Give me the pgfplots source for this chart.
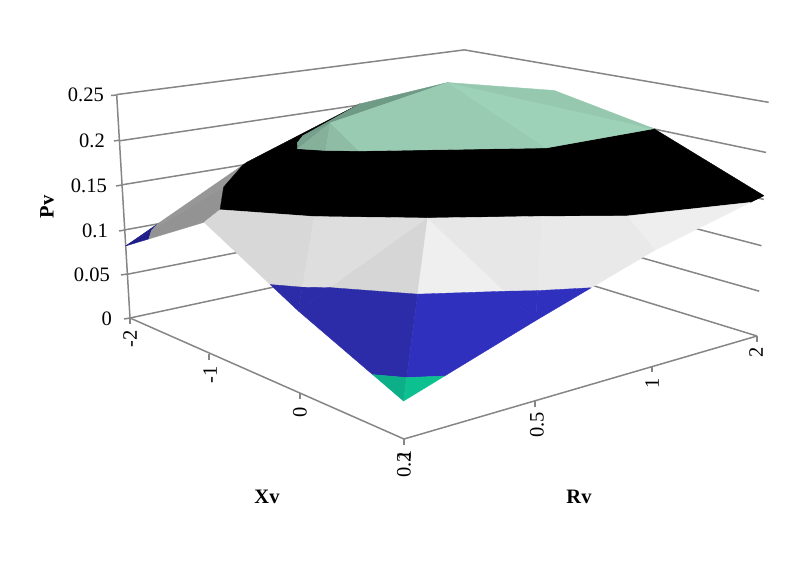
\documentclass[border=0pt]{standalone}
\usepackage{pgfplots}
\usepackage{fontspec}
\setmainfont{Liberation Serif}
\pgfplotsset{compat=1.18}
% perspective view of (u = Xv category index from the front, v = Rv category index, p = Pv)
\def\DEN{(1+0.06987*\thisrow{u}+0.059*\thisrow{v}-0.1828*\thisrow{p})}
\def\PX{(404-82.25*\thisrow{u}+162.33*\thisrow{v}-86.4*\thisrow{p})/\DEN}
\def\PY{(439-18.117*\thisrow{u}-14.51*\thisrow{v}-1108*\thisrow{p})/\DEN}
\newcommand\fac[2]{\addplot[fill=#1,draw=#1,line width=.35pt,line join=round,forget plot]
  table[x expr=\PX,y expr=\PY,row sep=\\]{u v p\\ #2} -- cycle;}
\newcommand\gl[1]{\addplot[axl,forget plot] table[x expr=\PX,y expr=\PY,row sep=\\]{u v p\\ #1};}
\definecolor{axc}{HTML}{868686}
\definecolor{bbb}{HTML}{1E1E88}
\definecolor{g1}{HTML}{939393}
\definecolor{g2}{HTML}{979797}
\definecolor{s2}{HTML}{6F9A85}
\definecolor{s3}{HTML}{76A08D}
\definecolor{t1}{HTML}{85B09A}
\definecolor{t2}{HTML}{8FBCA5}
\definecolor{t3}{HTML}{99CBB3}
\definecolor{t4}{HTML}{9DD2B9}
\definecolor{t5}{HTML}{95C8AF}
\definecolor{w1}{HTML}{D8D8D8}
\definecolor{w2}{HTML}{DEDEDE}
\definecolor{w3}{HTML}{D6D6D6}
\definecolor{w4}{HTML}{EFEFEF}
\definecolor{w5}{HTML}{E7E7E7}
\definecolor{w6}{HTML}{E9E9E9}
\definecolor{w8}{HTML}{EEEEEE}
\definecolor{b1}{HTML}{2C2CA8}
\definecolor{b2}{HTML}{3030BE}
\definecolor{e1}{HTML}{0DAF88}
\definecolor{e2}{HTML}{0DC090}
\tikzset{lab/.style={font=\fontsize{20.5}{24}\selectfont,inner sep=0pt},
 blab/.style={font=\fontsize{20.5}{24}\selectfont\bfseries,inner sep=0pt}}
\pgfplotsset{axl/.style={color=axc,line width=1.5pt}}
\begin{document}
\begin{tikzpicture}
\useasboundingbox (0,0) rectangle (799pt,574pt);
\begin{axis}[at={(0,0)},anchor=south west,scale only axis,width=799pt,height=574pt,
  xmin=0,xmax=799,ymin=0,ymax=574,y dir=reverse,hide axis,clip=false]
% gridlines on the back walls
\gl{3 0 0\\3 3 0\\0 3 0\\}
\gl{3 0 .05\\3 3 .05\\0 3 .05\\}
\gl{3 0 .1\\3 3 .1\\0 3 .1\\}
\gl{3 0 .15\\3 3 .15\\0 3 .15\\}
\gl{3 0 .198\\3 3 .199\\0 3 .2\\}
\gl{3 0 .2478\\3 3 .2475\\0 3 .2525\\}
% axes
\gl{3 0 0\\3 0 .2478\\}
\gl{3 0 0\\0 0 0\\0 3 0\\}
% ticks
\addplot[axl,forget plot] coordinates {(124,319)(130,318)};
\addplot[axl,forget plot] coordinates {(121,275)(127,274)};
\addplot[axl,forget plot] coordinates {(119,231)(125,230)};
\addplot[axl,forget plot] coordinates {(116,186)(122,185)};
\addplot[axl,forget plot] coordinates {(114,141)(120,140)};
\addplot[axl,forget plot] coordinates {(111,95.5)(117,95)};
\addplot[axl,forget plot] coordinates {(130,318)(130,324)};
\addplot[axl,forget plot] coordinates {(209,354)(209,360)};
\addplot[axl,forget plot] coordinates {(300,393)(300,399)};
\addplot[axl,forget plot] coordinates {(404,439)(404,445)};
\addplot[axl,forget plot] coordinates {(535,401)(535,407)};
\addplot[axl,forget plot] coordinates {(652,366)(652,372)};
\addplot[axl,forget plot] coordinates {(757,336)(757,342)};
% back facing facets, band 0.05-0.1
\fac{bbb}{3 0 .082\\2.69 0 .1\\2.871 .129 .1\\}
\fac{bbb}{3 0 .082\\2.871 .129 .1\\3 .255 .1\\}
% band 0.1-0.15, far side
\fac{g1}{2.69 0 .1\\2 0 .14\\2 .122 .15\\2.514 .486 .15\\2.871 .129 .1\\}
\fac{g2}{2.871 .129 .1\\2.514 .486 .15\\3 .965 .15\\3 .255 .1\\}
% band 0.15-0.2
\fac{black}{0 2.87 .15\\0 3 .154\\1 3 .2\\1 2 .2\\1.694 1 .2\\1.841 .841 .2\\2 .733 .2\\2.157 .843 .2\\2.317 1 .2\\3 2 .2\\3 1 .1525\\3 .965 .15\\2.514 .486 .15\\2 .122 .15\\1.478 .478 .15\\1 1 .15\\.58 1.58 .15\\.25 2 .15\\}
% band 0.2-0.25
\fac{s3}{2 .733 .2\\2.157 .843 .2\\2 1 .222\\}
\fac{s3}{2.157 .843 .2\\2.317 1 .2\\2 1 .222\\}
\fac{s2}{2 1 .222\\2.317 1 .2\\3 2 .2\\2 2 .247\\}
\fac{t1}{2 .733 .2\\1.841 .841 .2\\2 1 .222\\}
\fac{t2}{1.841 .841 .2\\1.694 1 .2\\2 1 .222\\}
\fac{t3}{2 1 .222\\1.694 1 .2\\1 2 .2\\2 2 .247\\}
\fac{t4}{1 2 .2\\1 3 .2\\2 2 .247\\}
\fac{t5}{1 3 .2\\2 3 .22\\2 2 .247\\}
% band 0.1-0.15, near side
\fac{w1}{1.286 0 .1\\2 0 .14\\2 .122 .15\\1.478 .478 .15\\1.116 .116 .1\\}
\fac{w2}{1.116 .116 .1\\1.478 .478 .15\\1 1 .15\\1 .242 .1\\}
\fac{w3}{.559 .559 .1\\1 .242 .1\\1 1 .15\\}
\fac{w4}{.559 .559 .1\\.275 1 .1\\1 1 .15\\}
\fac{w5}{.275 1 .1\\1 1 .15\\.58 1.58 .15\\.16 1.16 .1\\}
\fac{w6}{0 1.452 .1\\0 2 .123\\.25 2 .15\\.58 1.58 .15\\.16 1.16 .1\\}
\fac{w8}{0 2 .123\\0 2.87 .15\\.25 2 .15\\}
% band 0.05-0.1
\fac{b1}{.281 0 .05\\1 0 .084\\1 .242 .1\\.559 .559 .1\\.117 .117 .05\\}
\fac{b1}{1 0 .084\\1.286 0 .1\\1.116 .116 .1\\}
\fac{b1}{1 0 .084\\1.116 .116 .1\\1 .242 .1\\}
\fac{b2}{0 .3 .05\\0 1 .081\\.275 1 .1\\.559 .559 .1\\.117 .117 .05\\}
\fac{b2}{0 1 .081\\.275 1 .1\\.16 1.16 .1\\}
\fac{b2}{0 1 .081\\0 1.452 .1\\.16 1.16 .1\\}
% band 0-0.05
\fac{e1}{0 0 .0367\\.281 0 .05\\.117 .117 .05\\}
\fac{e2}{0 0 .0367\\.117 .117 .05\\0 .3 .05\\}
% labels
\node[lab,anchor=east] at (axis cs:104,95) {0.25};
\node[lab,anchor=east] at (axis cs:105,141) {0.2};
\node[lab,anchor=east] at (axis cs:107,186) {0.15};
\node[lab,anchor=east] at (axis cs:108,231) {0.1};
\node[lab,anchor=east] at (axis cs:110,275) {0.05};
\node[lab,anchor=east] at (axis cs:112,319) {0};
\node[lab,rotate=90] at (axis cs:130,339) {-2};
\node[lab,rotate=90] at (axis cs:210,375) {-1};
\node[lab,rotate=90] at (axis cs:300,412) {0};
\node[lab,rotate=90] at (axis cs:404,465) {0.2};
\node[lab,rotate=90] at (axis cs:404,455) {1};
\node[lab,rotate=90] at (axis cs:537,425) {0.5};
\node[lab,rotate=90] at (axis cs:652,383) {1};
\node[lab,rotate=90] at (axis cs:756,352) {2};
\node[blab,rotate=90] at (axis cs:47,207) {Pv};
\node[blab] at (axis cs:267,497) {Xv};
\node[blab] at (axis cs:579,497) {Rv};
\end{axis}
\end{tikzpicture}
\end{document}
